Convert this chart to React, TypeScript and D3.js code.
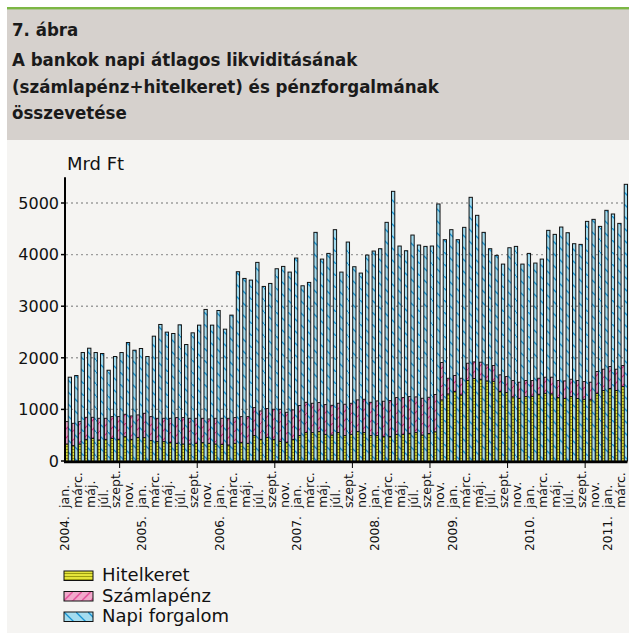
import React from "react";
import * as d3 from "d3";

// months shown on the category axis (every second one is labelled)
const monthNames = ["jan.", "febr.", "márc.", "ápr.", "máj.", "jún.", "júl.", "aug.", "szept.", "okt.", "nov.", "dec."];
const years = ["2004.", "2005.", "2006.", "2007.", "2008.", "2009.", "2010.", "2011."];
const monthCount = 87; // 2004 jan. - 2011 márc.

// Mrd Ft, monthly averages
const hitelkeret = [
  330, 298, 330, 420, 440, 408, 420, 440, 420, 472, 420, 453,
  453, 395, 375, 375, 356, 343, 330, 330, 343, 356, 343, 330,
  323, 310, 343, 356, 343, 492, 420, 459, 420, 382, 362, 420,
  492, 550, 550, 569, 517, 504, 550, 492, 517, 569, 550, 492,
  492, 472, 472, 517, 517, 537, 550, 504, 533, 566, 1184, 1300,
  1345, 1281, 1559, 1598, 1585, 1552, 1546, 1345, 1326, 1242, 1210, 1248,
  1255, 1294, 1313, 1300, 1229, 1210, 1248, 1210, 1197, 1184, 1313, 1365,
  1404, 1365, 1442,
];
const szamlapenz = [
  433, 433, 433, 427, 407, 420, 408, 420, 440, 434, 453, 440,
  472, 465, 453, 453, 472, 498, 511, 498, 485, 472, 472, 498,
  505, 518, 498, 504, 517, 543, 550, 557, 583, 621, 582, 570,
  582, 588, 569, 563, 576, 576, 569, 608, 602, 615, 647, 646,
  672, 686, 699, 712, 712, 711, 692, 712, 702, 724, 724, 304,
  311, 323, 336, 323, 330, 311, 304, 324, 310, 317, 317, 311,
  304, 310, 311, 324, 330, 342, 337, 349, 342, 343, 421, 414,
  427, 414, 408,
];
const napiForgalom = [
  1624, 1656, 2102, 2186, 2102, 2083, 1759, 2025, 2102, 2296, 2147, 2180,
  2025, 2419, 2646, 2497, 2471, 2639, 2257, 2484, 2633, 2937, 2633, 2917,
  2555, 2827, 3668, 3538, 3506, 3849, 3383, 3441, 3726, 3771, 3661, 3933,
  3396, 3461, 4431, 3913, 4023, 4483, 3661, 4243, 3765, 3642, 3991, 4069,
  4114, 4625, 5226, 4166, 4075, 4379, 4185, 4159, 4166, 4981, 4289, 4483,
  4289, 4528, 5110, 4761, 4431, 4114, 3985, 3816, 4133, 4159, 3816, 4023,
  3836, 3913, 4470, 4392, 4534, 4424, 4211, 4198, 4644, 4683, 4547, 4858,
  4787, 4605, 5362,
];
const yTicks = [0, 1000, 2000, 3000, 4000, 5000];
const legendItems = [
  { key: "hitelkeret", label: "Hitelkeret", fill: "url(#patYellow)" },
  { key: "szamlapenz", label: "Számlapénz", fill: "url(#patPink)" },
  { key: "napi", label: "Napi forgalom", fill: "url(#patBlue)" },
];

const titleLines = [
  "7. ábra",
  "A bankok napi átlagos likviditásának",
  "(számlapénz+hitelkeret) és pénzforgalmának",
  "összevetése",
];

const W = 629;
const H = 633;
const left = 65;
const right = 627.5;
const bottom = 461;
const top = 177.2;

const font = "'DejaVu Sans', Verdana, sans-serif";
const titleFont = "'DejaVu Sans Condensed', 'DejaVu Sans', sans-serif";

export default function App() {
  const idx = d3.range(monthCount);
  const rows = idx.map((i) => ({ i, hitelkeret: hitelkeret[i], szamlapenz: szamlapenz[i] }));
  const stacked = d3.stack<any>().keys(["hitelkeret", "szamlapenz"])(rows);

  const x = d3.scaleBand<number>().domain(idx).range([left, right]).paddingInner(0).paddingOuter(0);
  const y = d3.scaleLinear().domain([0, 5500]).range([bottom, top]);
  const step = x.step();
  const bw = 3.3;

  const stackFills = ["url(#patYellow)", "url(#patPink)"];

  return (
    <>
      <style>{`body{margin:0}`}</style>
      <svg width={W} height={H} style={{ display: "block" }}>
        <defs>
          <pattern id="patBlue" patternUnits="userSpaceOnUse" width={12} height={12}>
            <rect width={12} height={12} fill="#a4dcef" />
            <path d="M-3,-3 L15,15" stroke="#1893d2" strokeWidth={1.3} />
          </pattern>
          <pattern id="patPink" patternUnits="userSpaceOnUse" width={9} height={9}>
            <rect width={9} height={9} fill="#f2a9cb" />
            <path d="M-2,11 L11,-2" stroke="#e0328c" strokeWidth={1.2} />
          </pattern>
          <pattern id="patYellow" patternUnits="userSpaceOnUse" width={3} height={3}>
            <rect width={3} height={3} fill="#e4e43a" />
            <rect y={2} width={3} height={1} fill="#9a9a10" />
          </pattern>
        </defs>

        {/* page background and header */}
        <rect x={7} y={9} width={W - 7} height={131} fill="#d6d1cd" />
        <rect x={7} y={140} width={W - 7} height={H - 140} fill="#f5f4f2" />
        <rect x={7} y={7} width={W - 7} height={2.4} fill="#7cb744" />
        {titleLines.map((t, k) => (
          <text
            key={k}
            x={12}
            y={[36, 66, 93, 119][k]}
            fontFamily={titleFont}
            fontWeight="bold"
            fontSize={18.5}
            fill="#1a1a1a"
          >
            {t}
          </text>
        ))}

        <text x={67} y={170} fontFamily={font} fontSize={18} fill="#111">
          Mrd Ft
        </text>

        {/* grid */}
        {yTicks.filter((t) => t > 0).map((t) => (
          <line key={t} x1={left + 1} x2={right} y1={y(t)} y2={y(t)} stroke="#9d9d9d" strokeWidth={1.4} strokeDasharray="2,3" />
        ))}

        {/* stacked liquidity bars */}
        {stacked.map((s, k) => (
          <g key={s.key}>
            {s.map((d, i) => (
              <rect
                key={i}
                x={(x(i) as number) + 0.6}
                y={y(d[1])}
                width={bw}
                height={y(d[0]) - y(d[1])}
                fill={stackFills[k]}
                stroke="#111"
                strokeWidth={0.9}
              />
            ))}
          </g>
        ))}

        {/* daily turnover bars */}
        {napiForgalom.map((v, i) => (
          <rect
            key={i}
            x={(x(i) as number) + 3.2}
            y={y(v)}
            width={bw}
            height={y(0) - y(v)}
            fill="url(#patBlue)"
            stroke="#111"
            strokeWidth={1}
          />
        ))}

        {/* axes */}
        <line x1={left} x2={left} y1={top} y2={bottom + 1} stroke="#000" strokeWidth={2} />
        <line x1={left - 1} x2={right} y1={bottom + 1} y2={bottom + 1} stroke="#000" strokeWidth={2.6} />
        {yTicks.map((t) => (
          <g key={t}>
            <line x1={left - 4} x2={left} y1={y(t)} y2={y(t)} stroke="#000" strokeWidth={1.5} />
            <text x={59} y={y(t)} dy="0.36em" textAnchor="end" fontFamily={font} fontSize={16} fill="#111">
              {t}
            </text>
          </g>
        ))}
        {d3.range(0, monthCount, 12).map((i) => (
          <line
            key={i}
            x1={left + (i + 8.45) * step}
            x2={left + (i + 8.45) * step}
            y1={bottom + 1}
            y2={bottom + 7}
            stroke="#000"
            strokeWidth={1}
          />
        ))}

        {/* category labels */}
        {idx
          .filter((i) => i % 2 === 0)
          .map((i) => {
            const cx = (x(i) as number) + step / 2 + 0.5;
            return (
              <text
                key={i}
                transform={`translate(${cx},508) rotate(-90)`}
                fontFamily={font}
                fontSize={12.6}
                fill="#111"
              >
                {monthNames[i % 12]}
              </text>
            );
          })}
        {years.map((yr, k) => {
          const cx = (x(k * 12) as number) + step / 2 + 0.5;
          return (
            <text key={yr} transform={`translate(${cx},551) rotate(-90)`} fontFamily={font} fontSize={12.2} fill="#111">
              {yr}
            </text>
          );
        })}

        {/* legend */}
        {legendItems.map((l, k) => (
          <g key={l.key} transform={`translate(64,${571 + k * 20.5})`}>
            <rect width={29} height={9.5} fill={l.fill} stroke="#111" strokeWidth={1} />
            <text x={38} y={10} fontFamily={font} fontSize={18} fill="#111">
              {l.label}
            </text>
          </g>
        ))}
      </svg>
    </>
  );
}
